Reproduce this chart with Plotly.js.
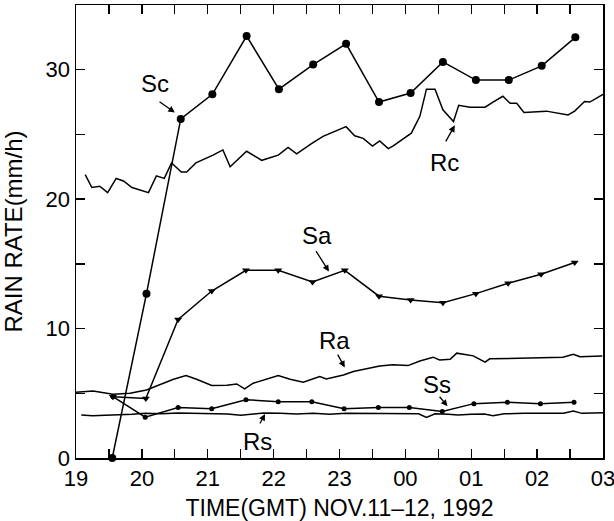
<!DOCTYPE html>
<html>
<head>
<meta charset="utf-8">
<script src="https://cdn.plot.ly/plotly-3.0.1.min.js"></script>
<style>html,body{margin:0;padding:0;background:#fff;}#chart{width:614px;height:521px;}</style>
</head>
<body>
<div id="chart"></div>
<script>
// Time in hours since 00 of Nov 11 (24 = 00 GMT Nov 12)
const scTime = [19.55, 20.07, 20.59, 21.07, 21.59, 22.08, 22.60, 23.10, 23.60, 24.08, 24.57, 25.07, 25.57, 26.07, 26.58];
const scRate = [0, 12.7, 26.2, 28.1, 32.6, 28.5, 30.4, 32.0, 27.5, 28.2, 30.6, 29.2, 29.2, 30.3, 32.5];

const saTime = [19.56, 20.06, 20.55, 21.06, 21.58, 22.07, 22.59, 23.08, 23.60, 24.08, 24.57, 25.07, 25.56, 26.06, 26.57];
const saRate = [4.74, 4.6, 10.7, 12.9, 14.5, 14.5, 13.6, 14.5, 12.5, 12.2, 12.0, 12.7, 13.5, 14.2, 15.1];

const ssTime = [19.56, 20.05, 20.55, 21.06, 21.58, 22.07, 22.58, 23.07, 23.59, 24.06, 24.56, 25.04, 25.55, 26.05, 26.56];
const ssRate = [4.74, 3.15, 3.9, 3.8, 4.5, 4.35, 4.35, 3.8, 3.9, 3.9, 3.6, 4.2, 4.3, 4.2, 4.3];

const rcTime = [19.14, 19.24, 19.36, 19.48, 19.61, 19.72, 19.85, 20.10, 20.22, 20.34, 20.45, 20.60, 20.68, 20.82, 21.08, 21.23, 21.34, 21.59, 21.82, 22.07, 22.22, 22.35, 22.58, 22.75, 23.10, 23.23, 23.36, 23.50, 23.61, 23.74, 23.81, 24.09, 24.22, 24.32, 24.45, 24.57, 24.73, 24.81, 24.98, 25.21, 25.33, 25.48, 25.59, 25.69, 25.80, 26.14, 26.47, 26.57, 26.72, 26.80, 27.0];
const rcRate = [21.9, 20.9, 21.0, 20.5, 21.6, 21.4, 20.9, 20.5, 21.8, 21.6, 22.8, 22.1, 22.1, 22.8, 23.4, 23.8, 22.5, 23.7, 23.0, 23.4, 24.0, 23.5, 24.3, 24.85, 25.6, 24.9, 24.7, 24.1, 24.5, 23.9, 24.1, 25.1, 26.4, 28.5, 28.5, 26.9, 26.0, 27.25, 27.1, 27.1, 27.5, 27.95, 27.4, 27.4, 26.7, 26.8, 26.5, 26.8, 27.55, 27.5, 28.1];

const raTime = [19.0, 19.26, 19.56, 19.82, 20.07, 20.27, 20.48, 20.67, 20.83, 21.06, 21.29, 21.44, 21.56, 21.69, 21.85, 22.07, 22.25, 22.45, 22.70, 22.80, 23.06, 23.21, 23.61, 23.81, 24.04, 24.22, 24.42, 24.52, 24.68, 24.78, 25.03, 25.21, 25.28, 25.79, 26.09, 26.39, 26.55, 26.65, 26.99];
const raRate = [5.08, 5.18, 4.93, 5.0, 5.26, 5.64, 6.08, 6.37, 6.08, 5.6, 5.62, 5.72, 5.34, 5.78, 6.05, 6.37, 6.08, 5.85, 6.29, 6.11, 6.42, 6.68, 7.1, 7.2, 7.14, 7.5, 7.79, 7.58, 7.63, 8.1, 7.89, 7.4, 7.66, 7.71, 7.76, 7.79, 8.02, 7.83, 7.89];

const rsTime = [19.08, 19.25, 19.45, 19.65, 19.85, 20.05, 20.3, 20.55, 20.8, 21.05, 21.3, 21.5, 21.65, 21.85, 22.1, 22.35, 22.6, 22.85, 23.1, 23.4, 23.7, 24.0, 24.2, 24.32, 24.45, 24.65, 24.8, 25.0, 25.2, 25.33, 25.5, 25.8, 26.1, 26.4, 26.55, 26.68, 26.85, 27.0];
const rsRate = [3.32, 3.27, 3.3, 3.32, 3.38, 3.45, 3.42, 3.48, 3.45, 3.42, 3.4, 3.3, 3.38, 3.48, 3.45, 3.4, 3.45, 3.38, 3.45, 3.45, 3.4, 3.45, 3.42, 3.14, 3.42, 3.38, 3.32, 3.38, 3.4, 3.27, 3.42, 3.45, 3.45, 3.45, 3.63, 3.45, 3.48, 3.5];

const hourLabels = ['19', '20', '21', '22', '23', '00', '01', '02', '03'];
const rateLabels = ['0', '10', '20', '30'];

// Series labels, their text positions, and arrow tail/head positions
const seriesLabels = ['Sc', 'Rc', 'Sa', 'Ra', 'Ss', 'Rs'];
const labelX = [20.20, 24.59, 22.66, 22.93, 24.48, 21.76];
const labelY = [28.9, 22.8, 17.2, 9.1, 5.65, 1.25];
const tailX = [20.245, 24.60, 22.63, 22.96, 24.50, 21.78];
const tailY = [27.6, 24.35, 16.1, 8.1, 4.85, 2.55];
const headX = [20.50, 24.75, 22.84, 23.08, 24.64, 21.87];
const headY = [26.7, 25.7, 14.4, 7.0, 4.0, 3.4];

const FONT = 'Liberation Sans, Arial, Helvetica, sans-serif';

// Ticks every half hour, labels every hour
const xTickVals = [], xTickText = [];
for (let i = 0; i < hourLabels.length; i++) {
  xTickVals.push(19 + i); xTickText.push(hourLabels[i]);
  if (i < hourLabels.length - 1) { xTickVals.push(19.5 + i); xTickText.push(''); }
}
const yTickVals = [], yTickText = [];
for (let i = 0; i < rateLabels.length; i++) {
  yTickVals.push(i * 10); yTickText.push(rateLabels[i]);
  yTickVals.push(i * 10 + 5); yTickText.push('');
}

const lineStyle = {color: '#000', width: 1.5};
const traces = [
  {x: rcTime, y: rcRate, mode: 'lines', line: lineStyle, name: 'Rc'},
  {x: raTime, y: raRate, mode: 'lines', line: lineStyle, name: 'Ra'},
  {x: rsTime, y: rsRate, mode: 'lines', line: lineStyle, name: 'Rs'},
  {x: ssTime, y: ssRate, mode: 'lines+markers', line: lineStyle, marker: {symbol: 'circle', size: 5, color: '#000'}, name: 'Ss'},
  {x: saTime, y: saRate, mode: 'lines+markers', line: lineStyle, marker: {symbol: 'triangle-down', size: 7, color: '#000'}, name: 'Sa'},
  {x: scTime, y: scRate, mode: 'lines+markers', line: lineStyle, marker: {symbol: 'circle', size: 8, color: '#000'}, name: 'Sc', cliponaxis: false}
];

const annotations = [];
for (let i = 0; i < seriesLabels.length; i++) {
  annotations.push({x: labelX[i], y: labelY[i], xref: 'x', yref: 'y', text: seriesLabels[i], showarrow: false,
    font: {family: FONT, size: 24, color: '#000'}, xanchor: 'center', yanchor: 'middle'});
  annotations.push({x: headX[i], y: headY[i], xref: 'x', yref: 'y', ax: tailX[i], ay: tailY[i], axref: 'x', ayref: 'y',
    text: '', showarrow: true, arrowhead: 2, arrowsize: 1, arrowwidth: 1.3, arrowcolor: '#000', standoff: 0, startstandoff: 0});
}

const axisCommon = {
  showgrid: false, zeroline: false, showline: true, linecolor: '#000', linewidth: 1.5,
  mirror: 'ticks', ticks: 'inside', ticklen: 9, tickwidth: 1.3, tickcolor: '#000',
  tickmode: 'array', tickfont: {family: FONT, size: 22, color: '#000'}, ticklabeloverflow: 'allow'
};

const layout = {
  width: 614, height: 521,
  margin: {l: 76, r: 11, t: 5, b: 63},
  paper_bgcolor: '#fff', plot_bgcolor: '#fff',
  showlegend: false,
  font: {family: FONT, color: '#000'},
  xaxis: Object.assign({}, axisCommon, {
    range: [18.9999, 27.0001], tickvals: xTickVals, ticktext: xTickText,
    title: {text: 'TIME(GMT) NOV.11\u201312, 1992', font: {family: FONT, size: 23, color: '#000'}, standoff: 10}
  }),
  yaxis: Object.assign({}, axisCommon, {
    range: [0, 35], tickvals: yTickVals, ticktext: yTickText,
    title: {text: 'RAIN RATE(mm/h)', font: {family: FONT, size: 24, color: '#000'}, standoff: 17}
  }),
  annotations: annotations
};

Plotly.newPlot('chart', traces, layout, {staticPlot: true});
</script>
</body>
</html>
